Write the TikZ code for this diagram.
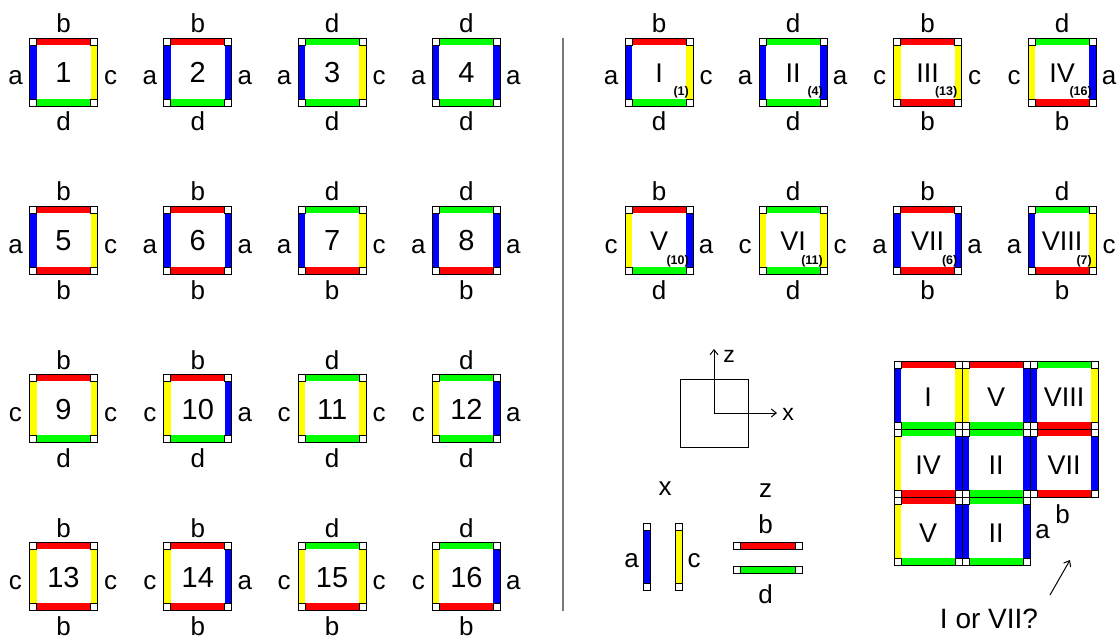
\documentclass[tikz,border=0pt]{standalone}
\usepackage{fontspec}
\setmainfont{Liberation Sans}
\usetikzlibrary{arrows.meta}
\definecolor{col-a}{RGB}{0,0,255}
\definecolor{col-b}{RGB}{255,0,0}
\definecolor{col-c}{RGB}{255,255,0}
\definecolor{col-d}{RGB}{0,255,0}
\definecolor{divgray}{RGB}{120,120,120}
\tikzset{
  edge/.style={draw=black, line width=0.9pt},
  corner/.style={draw=black, fill=white, line width=0.8pt},
  lbl/.style={font=\fontsize{26}{26}\selectfont, anchor=base, inner sep=0pt},
  num/.style={font=\fontsize{29}{29}\selectfont, anchor=base, inner sep=0pt},
  rom/.style={font=\fontsize{27}{27}\selectfont, anchor=base, inner sep=0pt},
  tagf/.style={font=\bfseries\fontsize{12.5}{13}\selectfont, anchor=base east, inner sep=0pt},
  axl/.style={font=\fontsize{23}{23}\selectfont, anchor=base, inner sep=0pt},
  arr/.style={line width=1pt, -{Straight Barb[length=5pt,width=8pt]}},
}
% tile body: cx cy L T R B (letters a..d)
\newcommand\tileshape[6]{%
  \begin{scope}[shift={(#1,#2)}]
    \fill[col-#3] (-34,-27) rectangle (-27,27);
    \fill[col-#4] (-27,-34) rectangle (27,-27);
    \fill[col-#5] (27,-27) rectangle (34,27);
    \fill[col-#6] (-27,27) rectangle (27,34);
    \draw[edge] (-34,-34) rectangle (34,34);
    \draw[corner] (-34,-34) rectangle (-27,-27);
    \draw[corner] (27,-34) rectangle (34,-27);
    \draw[corner] (-34,27) rectangle (-27,34);
    \draw[corner] (27,27) rectangle (34,34);
  \end{scope}}
% labelled tile: name cx cy L T R B text style
\newcommand\tile[9]{%
  \tileshape{#2}{#3}{#4}{#5}{#6}{#7}
  \node[lbl] (#1-t) at (#2,#3-39) {#5};
  \node[lbl] (#1-b) at (#2,#3+59) {#7};
  \node[lbl] (#1-l) at (#2-48,#3+13) {#4};
  \node[lbl] (#1-r) at (#2+47,#3+13) {#6};
  \node[#9] (#1-n) at (#2,#3+11) {#8};}
\newcommand\smalltag[4]{\node[tagf] (#1) at (#2+30,#3+24) {#4};}
\begin{document}
\begin{tikzpicture}[x=1pt,y=-1pt]
\fill[white] (0,0) rectangle (1119,639);
\useasboundingbox (0,0) rectangle (1119,639);

% ---- left: 16 tiles ----
\tile{L1}{63.5}{72}{a}{b}{c}{d}{1}{num}
\tile{L2}{197.8}{72}{a}{b}{a}{d}{2}{num}
\tile{L3}{332.1}{72}{a}{d}{c}{d}{3}{num}
\tile{L4}{466.4}{72}{a}{d}{a}{d}{4}{num}
\tile{L5}{63.5}{240}{a}{b}{c}{b}{5}{num}
\tile{L6}{197.8}{240}{a}{b}{a}{b}{6}{num}
\tile{L7}{332.1}{240}{a}{d}{c}{b}{7}{num}
\tile{L8}{466.4}{240}{a}{d}{a}{b}{8}{num}
\tile{L9}{63.5}{408}{c}{b}{c}{d}{9}{num}
\tile{L10}{197.8}{408}{c}{b}{a}{d}{10}{num}
\tile{L11}{332.1}{408}{c}{d}{c}{d}{11}{num}
\tile{L12}{466.4}{408}{c}{d}{a}{d}{12}{num}
\tile{L13}{63.5}{576}{c}{b}{c}{b}{13}{num}
\tile{L14}{197.8}{576}{c}{b}{a}{b}{14}{num}
\tile{L15}{332.1}{576}{c}{d}{c}{b}{15}{num}
\tile{L16}{466.4}{576}{c}{d}{a}{b}{16}{num}

% ---- divider ----
\coordinate (divT) at (563,38);
\coordinate (divB) at (563,611);
\draw[divgray, line width=1.3pt] (divT) -- (divB);

% ---- right: 8 tile types ----
\tile{R1}{659}{72}{a}{b}{c}{d}{I}{rom}
\smalltag{R1-g}{659}{72}{(1)}
\tile{R2}{793}{72}{a}{d}{a}{d}{II}{rom}
\smalltag{R2-g}{793}{72}{(4)}
\tile{R3}{927.5}{72}{c}{b}{c}{b}{III}{rom}
\smalltag{R3-g}{927.5}{72}{(13)}
\tile{R4}{1062}{72}{c}{d}{a}{b}{IV}{rom}
\smalltag{R4-g}{1062}{72}{(16)}
\tile{R5}{659}{240}{c}{b}{a}{d}{V}{rom}
\smalltag{R5-g}{659}{240}{(10)}
\tile{R6}{793}{240}{c}{d}{c}{d}{VI}{rom}
\smalltag{R6-g}{793}{240}{(11)}
\tile{R7}{927.5}{240}{a}{b}{a}{b}{VII}{rom}
\smalltag{R7-g}{927.5}{240}{(6)}
\tile{R8}{1062}{240}{a}{d}{c}{b}{VIII}{rom}
\smalltag{R8-g}{1062}{240}{(7)}

% ---- axes ----
\node[draw, line width=0.9pt, minimum size=68pt, inner sep=0pt] (axbox) at (714,413) {};
\coordinate (ax0) at (714,413);
\coordinate (axz) at (714,349);
\coordinate (axx) at (777,413);
\draw[arr] (ax0) -- (axz);
\draw[arr] (ax0) -- (axx);
\node[axl] (zl) at (729,362) {z};
\node[axl] (xl) at (788,420) {x};

% ---- x / z edge pieces ----
\node[lbl] (xh) at (665,495) {x};
\draw[edge, fill=col-a] (643,523) rectangle (650,590);
\draw[corner] (643,523) rectangle (650,530);
\draw[corner] (643,583) rectangle (650,590);
\draw[edge, fill=col-c] (675,523) rectangle (682,590);
\draw[corner] (675,523) rectangle (682,530);
\draw[corner] (675,583) rectangle (682,590);
\node[lbl] (xa) at (631.5,567) {a};
\node[lbl] (xc) at (694,567) {c};

\node[lbl] (zh) at (765.5,497) {z};
\node[lbl] (zb) at (765.5,533) {b};
\draw[edge, fill=col-b] (733,542) rectangle (802,549);
\draw[corner] (733,542) rectangle (740,549);
\draw[corner] (795,542) rectangle (802,549);
\draw[edge, fill=col-d] (733,566) rectangle (802,573);
\draw[corner] (733,566) rectangle (740,573);
\draw[corner] (795,566) rectangle (802,573);
\node[lbl] (zd) at (765.5,603) {d};

% ---- assembled grid ----
\tileshape{928}{395}{a}{b}{c}{d}
\node[rom] (G1) at (928,406) {I};
\tileshape{996}{395}{c}{b}{a}{d}
\node[rom] (G2) at (996,406) {V};
\tileshape{1064}{395}{a}{d}{c}{b}
\node[rom] (G3) at (1064,406) {VIII};
\tileshape{928}{463}{c}{d}{a}{b}
\node[rom] (G4) at (928,474) {IV};
\tileshape{996}{463}{a}{d}{a}{d}
\node[rom] (G5) at (996,474) {II};
\tileshape{1064}{463}{a}{b}{a}{b}
\node[rom] (G6) at (1064,474) {VII};
\tileshape{928}{531}{c}{b}{a}{d}
\node[rom] (G7) at (928,542) {V};
\tileshape{996}{531}{a}{d}{a}{d}
\node[rom] (G8) at (996,542) {II};
\node[lbl] (ga) at (1042.5,538) {a};
\node[lbl] (gb) at (1062.5,523) {b};

\node[font=\fontsize{28}{28}\selectfont, anchor=base, inner sep=0pt] (q) at (989,628) {I or VII?};
\coordinate (qs) at (1050,595);
\coordinate (qe) at (1070,560);
\draw[arr] (qs) -- (qe);
\end{tikzpicture}
\end{document}
